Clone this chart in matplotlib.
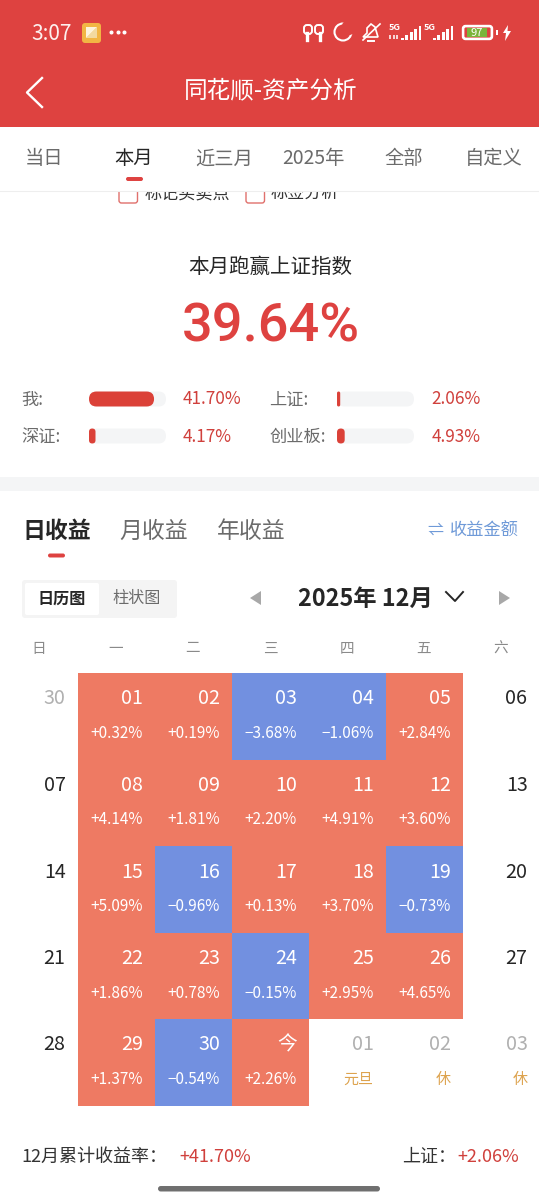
import matplotlib
matplotlib.use("Agg")
import matplotlib.pyplot as plt
from matplotlib.patches import Rectangle, FancyBboxPatch, Polygon, Circle

plt.rcParams["font.family"] = ["Noto Sans CJK SC", "DejaVu Sans"]

# ------------------------------------------------------------
# data
# ------------------------------------------------------------
period_tabs = ["当日", "本月", "近三月", "2025年", "全部", "自定义"]
compare_labels = ["我:", "上证:", "深证:", "创业板:"]
compare_values = [41.70, 2.06, 4.17, 4.93]
weekdays = ["日", "一", "二", "三", "四", "五", "六"]
income_tabs = ["日收益", "月收益", "年收益"]

# one row per week, None means a cell without a return
day_labels = [
    ["30", "01", "02", "03", "04", "05", "06"],
    ["07", "08", "09", "10", "11", "12", "13"],
    ["14", "15", "16", "17", "18", "19", "20"],
    ["21", "22", "23", "24", "25", "26", "27"],
    ["28", "29", "30", "今", "01", "02", "03"],
]
day_returns = [
    [None, 0.32, 0.19, -3.68, -1.06, 2.84, None],
    [None, 4.14, 1.81, 2.20, 4.91, 3.60, None],
    [None, 5.09, -0.96, 0.13, 3.70, -0.73, None],
    [None, 1.86, 0.78, -0.15, 2.95, 4.65, None],
    [None, 1.37, -0.54, 2.26, None, None, None],
]
holiday_notes = {4: "元旦", 5: "休", 6: "休"}

# ------------------------------------------------------------
# colours and layout, one axes unit is one pixel
# ------------------------------------------------------------
RED = "#de4240"
TEXT_RED = "#d0403c"
CELL_RED = "#ee7a63"
CELL_BLUE = "#7290e0"
TRACK = "#f4f5f6"
DARK = "#262626"
GREY = "#6b6b6b"
LIGHT = "#b0b0b0"
BLUE = "#6f9ad8"
GOLD = "#dda34e"

CELL_W = 77.0
CELL_H = 86.5
GRID_X = 0.5
GRID_Y = 673.0
BAR_SCALE = 1.56  # px per percent
TRACK_W = 77

fig = plt.figure(figsize=(5.39, 12), dpi=100, facecolor="white")
ax = fig.add_axes([0, 0, 1, 1])
ax.set_xlim(0, 539)
ax.set_ylim(1200, 0)
ax.axis("off")


def txt(x, y, s, size, color=DARK, ha="center", weight="normal", z=3, family=None):
    # the CJK font sits a little high when centred, hence the 1.5
    ax.text(x, y + 1.5, s, fontsize=size, color=color, ha=ha, va="center",
            fontweight=weight, zorder=z, family=family)


def rbar(x, y, w, h, color, z=2):
    r = min(w, h) / 2
    ax.add_patch(FancyBboxPatch((x + r, y + r), max(w - 2 * r, 0.01), h - 2 * r,
                                boxstyle=f"round,pad={r - 0.01},rounding_size={r}",
                                fc=color, ec="none", zorder=z))


# ------------------------------------------------------------
# red header with status bar
# ------------------------------------------------------------
ax.add_patch(Rectangle((0, 0), 539, 127, fc=RED, ec="none", zorder=1))
txt(31, 32, "3:07", 15, "#fdf0ee", ha="left")
ax.add_patch(FancyBboxPatch((84, 25), 15, 16, boxstyle="round,pad=2,rounding_size=3",
                            fc="#f2b544", ec="none", zorder=2))
ax.add_patch(Polygon([[86, 38], [97, 27], [97, 38]], fc="#f3d9a0", ec="none", zorder=3))
ax.add_patch(Polygon([[86, 38], [86, 27], [97, 27]], fc="#fdf3dc", ec="none", zorder=3))
ax.plot([111, 117.5, 124], [32, 32, 32], ls="none", marker="o", ms=1.9, color="white", zorder=3)

# earbuds
for bx in (306, 317):
    ax.add_patch(FancyBboxPatch((bx, 27), 4, 5, boxstyle="round,pad=2,rounding_size=3",
                                fc="none", ec="white", lw=1.4, zorder=3))
    ax.plot([bx + (1 if bx == 306 else 3)] * 2, [33, 40], color="white", lw=2.4, zorder=3)
# moon
ax.add_patch(Circle((343, 32), 8.5, fc="none", ec="white", lw=1.5, zorder=3))
ax.add_patch(Circle((349, 27.5), 7.5, fc=RED, ec="none", zorder=4))
# muted bell
ax.add_patch(Polygon([[363, 37], [367, 33], [367, 28], [371, 24], [375, 27], [378, 37]],
                     fc="none", ec="white", lw=1.2, zorder=3))
ax.plot([363, 380], [40, 24], color="white", lw=1.2, zorder=3)
ax.plot([368, 374], [40.5, 40.5], color="white", lw=1.4, zorder=3)
# signal groups
for sx, dx, n in ((395, 401, 5), (430, 433, 5)):
    txt(sx, 26.5, "5G", 6.6, "white", weight="bold")
    for i in range(n):
        h = 2.5 + i * 3
        ax.add_patch(Rectangle((dx + i * 4.4, 40 - h), 2.7, h, fc="white", ec="none", zorder=3))
ax.plot([390, 394, 397], [37, 37, 37], ls="none", marker="|", ms=3.2, mew=1.1, color="white", zorder=3)
# battery
ax.add_patch(FancyBboxPatch((464, 27), 27, 11, boxstyle="round,pad=1.5,rounding_size=3",
                            fc="white", ec="white", lw=1.0, zorder=3))
ax.add_patch(FancyBboxPatch((465, 28), 25, 9, boxstyle="round,pad=0.6,rounding_size=1.5",
                            fc=RED, ec="none", zorder=3.1))
ax.add_patch(Rectangle((467, 28), 20, 9, fc="#7ab43a", ec="none", zorder=3.2))
txt(477, 31.5, "97", 8, "white", z=3.3)
ax.add_patch(Rectangle((496, 30), 1.6, 5, fc="white", ec="none", zorder=3))
ax.add_patch(Polygon([[508, 25], [503, 33], [506, 33], [505, 41], [511, 31], [507.5, 31]],
                     fc="white", ec="none", zorder=3))

ax.plot([42, 27, 42], [78, 92.5, 107], color="white", lw=1.7, zorder=3)
txt(271, 89, "同花顺-资产分析", 17, "white")

# ------------------------------------------------------------
# half hidden checkbox row, tab bar painted over it
# ------------------------------------------------------------
for bx, label, lx in ((119, "标记买卖点", 145), (246, "标签分析", 271)):
    ax.add_patch(FancyBboxPatch((bx, 184), 18.5, 19, boxstyle="round,pad=0,rounding_size=2.5",
                                fc="white", ec="#e0706c", lw=1.0, zorder=2))
    txt(lx, 191.5, label, 12.3, "#333333", ha="left", z=2)
ax.add_patch(Rectangle((0, 127), 539, 64, fc="white", ec="none", zorder=2.5))
ax.plot([0, 539], [190.5, 190.5], color="#eeeeee", lw=0.8, zorder=2.6)

tab_centers = [43.5, 134, 224, 313.5, 404, 493.5]
for i, (cx, label) in enumerate(zip(tab_centers, period_tabs)):
    txt(cx, 157.5, label, 13.9, DARK if i == 1 else GREY)
rbar(126, 177, 17, 4, RED, z=3)

# ------------------------------------------------------------
# comparison block
# ------------------------------------------------------------
txt(270.5, 265, "本月跑赢上证指数", 14.8, DARK)
txt(271, 325, "39.64%", 39, RED, weight="medium", family="Roboto")

label_x = [21, 269.5, 21, 269.5]
track_x = [89, 337, 89, 337]
value_x = [183, 431.5, 183, 431.5]
row_y = [399, 399, 436, 436]
for lab, val, lx, tx, vx, y in zip(compare_labels, compare_values, label_x, track_x, value_x, row_y):
    txt(lx, y - 1, lab, 12.4, GREY, ha="left")
    rbar(tx, y - 7.5, TRACK_W, 15, TRACK)
    rbar(tx, y - 7.5, val * BAR_SCALE, 15, "#db4138", z=2.2)
    txt(vx, y - 1, f"{val:.2f}%", 12.4, TEXT_RED, ha="left")

ax.add_patch(Rectangle((0, 477), 539, 14, fc=TRACK, ec="none", zorder=1))

# ------------------------------------------------------------
# income tabs and calendar controls
# ------------------------------------------------------------
for i, (x, label) in enumerate(zip((22, 119, 217), income_tabs)):
    txt(x, 529.5, label, 16.5, DARK if i == 0 else GREY, ha="left", weight="bold" if i == 0 else "normal")
rbar(48, 553.5, 17, 4, RED, z=3)
txt(435, 529, "⇌", 11.5, BLUE)
txt(450, 529.5, "收益金额", 12.4, BLUE, ha="left")

ax.add_patch(FancyBboxPatch((22, 580), 155, 38, boxstyle="round,pad=0,rounding_size=3",
                            fc="#f4f4f4", ec="none", zorder=1))
ax.add_patch(FancyBboxPatch((25, 583), 74, 32, boxstyle="round,pad=0,rounding_size=2",
                            fc="white", ec="none", zorder=1.5))
txt(62, 597.5, "日历图", 11.6, DARK, weight="bold")
txt(137, 597.5, "柱状图", 11.6, GREY)

ax.add_patch(Polygon([[250, 598], [261, 591], [261, 605]], fc="#a8a8a8", ec="none", zorder=2))
ax.add_patch(Polygon([[510, 598], [499, 591], [499, 605]], fc="#a8a8a8", ec="none", zorder=2))
txt(365.5, 597, "2025年 12月", 16.8, DARK, weight="bold")
ax.plot([446, 455, 463], [592, 601, 592], color=DARK, lw=1.4, zorder=3)

for col, wd in enumerate(weekdays):
    txt(39 + col * 77, 647, wd, 10.5, "#8a8a8a")

# ------------------------------------------------------------
# calendar grid
# ------------------------------------------------------------
for row, (labels, returns) in enumerate(zip(day_labels, day_returns)):
    top = GRID_Y + row * CELL_H
    for col, (label, ret) in enumerate(zip(labels, returns)):
        left = GRID_X + col * CELL_W
        right = left + CELL_W
        if ret is not None:
            color = CELL_RED if ret >= 0 else CELL_BLUE
            ax.add_patch(Rectangle((left, top), CELL_W, CELL_H, fc=color, ec="none", zorder=1))
            txt(right - 11.5, top + 24.5, label, 14.2, "white", ha="right")
            sign = "+" if ret >= 0 else "−"
            txt(right - 11.5, top + 59, f"{sign}{abs(ret):.2f}%", 11, "white", ha="right")
        elif row == 4 and col in holiday_notes:
            # next month, same right edge as the other cells
            txt(right - 12, top + 24.5, label, 14.2, LIGHT, ha="right")
            txt(right - 12, top + 59, holiday_notes[col], 10.8, GOLD, ha="right")
        else:
            c = LIGHT if row == 0 and col == 0 else DARK
            txt(right - 12, top + 24.5, label, 14.2, c, ha="right")

# ------------------------------------------------------------
# footer
# ------------------------------------------------------------
txt(21, 1155, "12月累计收益率：", 13, "#333333", ha="left")
txt(179, 1155, "+41.70%", 13, TEXT_RED, ha="left")
txt(402, 1155, "上证：", 13, "#333333", ha="left")
txt(519, 1155, "+2.06%", 13, TEXT_RED, ha="right")
rbar(158, 1186, 222, 5.5, "#6f6f6f")

fig.savefig("out.png", dpi=100)
plt.close(fig)
